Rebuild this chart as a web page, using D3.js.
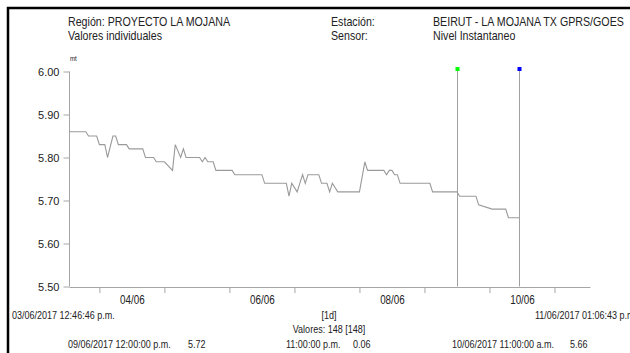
<!DOCTYPE html>
<html>
<head>
<meta charset="utf-8">
<script src="https://cdn.jsdelivr.net/npm/d3@7"></script>
<style>
  html, body { margin: 0; padding: 0; background: #fff; }
  svg { display: block; }
  .nar { font-family: 'Liberation Sans', Arial, sans-serif; fill: #222; }
  .reg { font-family: 'Liberation Sans', Arial, sans-serif; fill: #222; }
</style>
</head>
<body>
<div id="chart"></div>
<script>
// ---- data ----
const times = [
  "03/06/2017 12:46:46", "03/06/2017 19:00:00", "03/06/2017 20:00:00", "03/06/2017 23:00:00",
  "04/06/2017 00:00:00", "04/06/2017 02:00:00", "04/06/2017 03:00:00", "04/06/2017 05:00:00",
  "04/06/2017 06:00:00", "04/06/2017 07:00:00", "04/06/2017 10:00:00", "04/06/2017 11:00:00",
  "04/06/2017 16:00:00", "04/06/2017 17:00:00", "04/06/2017 20:00:00", "04/06/2017 21:00:00",
  "05/06/2017 00:00:00", "05/06/2017 03:00:00", "05/06/2017 04:00:00", "05/06/2017 06:00:00",
  "05/06/2017 07:00:00", "05/06/2017 08:00:00", "05/06/2017 13:00:00", "05/06/2017 14:00:00",
  "05/06/2017 15:00:00", "05/06/2017 16:00:00", "05/06/2017 18:00:00", "05/06/2017 19:00:00",
  "06/06/2017 01:00:00", "06/06/2017 02:00:00", "06/06/2017 12:00:00", "06/06/2017 13:00:00",
  "06/06/2017 21:00:00", "06/06/2017 22:00:00", "06/06/2017 23:00:00", "07/06/2017 01:00:00",
  "07/06/2017 03:00:00", "07/06/2017 04:00:00", "07/06/2017 05:00:00", "07/06/2017 09:00:00",
  "07/06/2017 10:00:00", "07/06/2017 12:00:00", "07/06/2017 13:00:00", "07/06/2017 14:00:00",
  "07/06/2017 16:00:00", "08/06/2017 00:00:00", "08/06/2017 02:00:00", "08/06/2017 03:00:00",
  "08/06/2017 09:00:00", "08/06/2017 10:00:00", "08/06/2017 11:00:00", "08/06/2017 12:00:00",
  "08/06/2017 13:00:00", "08/06/2017 14:00:00", "08/06/2017 15:00:00", "09/06/2017 02:00:00",
  "09/06/2017 03:00:00", "09/06/2017 12:00:00", "09/06/2017 13:00:00", "09/06/2017 19:00:00",
  "09/06/2017 20:00:00", "10/06/2017 01:00:00", "10/06/2017 06:00:00", "10/06/2017 07:00:00",
  "10/06/2017 11:00:00"
];
const values = [
  5.86, 5.86, 5.85, 5.85,
  5.83, 5.83, 5.80, 5.85,
  5.85, 5.83, 5.83, 5.82,
  5.82, 5.80, 5.80, 5.79,
  5.79, 5.77, 5.83, 5.80,
  5.82, 5.80, 5.80, 5.79,
  5.80, 5.79, 5.79, 5.77,
  5.77, 5.76, 5.76, 5.74,
  5.74, 5.71, 5.74, 5.72,
  5.76, 5.74, 5.76, 5.76,
  5.74, 5.74, 5.72, 5.74,
  5.72, 5.72, 5.79, 5.77,
  5.77, 5.76, 5.77, 5.77,
  5.76, 5.76, 5.74, 5.74,
  5.72, 5.72, 5.71, 5.71,
  5.69, 5.68, 5.68, 5.66,
  5.66
];
const periodStart = "03/06/2017 12:46:46";
const periodEnd = "11/06/2017 13:06:43";
const yTicks = [5.50, 5.60, 5.70, 5.80, 5.90, 6.00];
const xLabelDays = ["04/06/2017 12:00:00", "06/06/2017 12:00:00", "08/06/2017 12:00:00", "10/06/2017 12:00:00"];
const cursorTimes = ["09/06/2017 12:00:00", "10/06/2017 11:00:00"];
const cursorColors = ["#00ff00", "#0000ff"];
const headerLeft = ["Región: PROYECTO LA MOJANA", "Valores individuales"];
const headerMidLabels = ["Estación:", "Sensor:"];
const headerRight = ["BEIRUT - LA MOJANA TX GPRS/GOES", "Nivel Instantaneo"];
const unitLabel = "mt";
const footStart = "03/06/2017 12:46:46 p.m.";
const footEnd = "11/06/2017 01:06:43 p.m.";
const footInterval = "[1d]";
const footCount = "Valores: 148 [148]";
const cursorInfo = [
  ["09/06/2017 12:00:00 p.m.", "5.72"],
  ["11:00:00 p.m.", "0.06"],
  ["10/06/2017 11:00:00 a.m.", "5.66"]
];

// ---- drawing ----
const W = 630, H = 353;
const NARROW = 0.82; // horizontal squeeze imitating a narrow face
const parse = d3.timeParse("%d/%m/%Y %H:%M:%S");
const data = times.map((t, i) => ({ t: parse(t), v: values[i] }));

const svg = d3.select("#chart").append("svg").attr("width", W).attr("height", H);
svg.append("rect").attr("width", W).attr("height", H).attr("fill", "#fff");

// frame
svg.append("path").attr("d", `M8,${H + 5} V8 H${W + 5}`).attr("fill", "none")
  .attr("stroke", "#000").attr("stroke-width", 2.5);

const x = d3.scaleTime().domain([parse(periodStart), parse(periodEnd)]).range([69, 590]);
const y = d3.scaleLinear().domain([5.5, 6.0]).range([286.5, 71.5]);

const axisColor = "#a6a6a6";

// narrow text helper
function nt(s, xx, yy, size, anchor, squeeze) {
  return svg.append("g").attr("transform", `translate(${xx},${yy}) scale(${squeeze || NARROW},1)`)
    .append("text").attr("class", "nar").attr("font-size", size)
    .attr("text-anchor", anchor || "start").text(s);
}

// y axis
const gy = svg.append("g").attr("transform", "translate(69.5,0)")
  .call(d3.axisLeft(y).tickValues(yTicks).tickFormat(d3.format(".2f")).tickSize(6).tickPadding(4));
gy.attr("font-family", null);
gy.select(".domain").attr("stroke", axisColor).attr("d", `M0,${y(6.0)}V${y(5.5)}`);
gy.selectAll(".tick line").attr("stroke", axisColor);
gy.selectAll(".tick text").attr("class", "reg").attr("font-size", 11).attr("fill", "#222");

// x axis (day ticks)
const dayTicks = d3.timeDay.range(d3.timeDay.ceil(x.domain()[0]), x.domain()[1]);
const gx = svg.append("g").attr("transform", `translate(0,${y(5.5) + 0.5})`)
  .call(d3.axisBottom(x).tickValues(dayTicks).tickFormat("").tickSize(6).tickSizeOuter(0));
gx.select(".domain").attr("stroke", axisColor);
gx.selectAll(".tick line").attr("stroke", axisColor);

// x labels centred on the days
const gxl = svg.append("g").attr("transform", `translate(0,${y(5.5)})`)
  .call(d3.axisBottom(x).tickValues(xLabelDays.map(parse)).tickFormat(d3.timeFormat("%d/%m")).tickSize(0));
gxl.attr("font-family", null);
gxl.select(".domain").remove();
gxl.selectAll(".tick text").attr("class", "nar").attr("font-size", 12).attr("y", 18).attr("dy", 0)
  .attr("transform", `scale(${NARROW},1)`);

// unit
nt(unitLabel, 70, 61, 7.5);

// cursors
cursorTimes.forEach((c, i) => {
  const cx = Math.round(x(parse(c))) + 0.5;
  svg.append("line").attr("x1", cx).attr("x2", cx).attr("y1", 69).attr("y2", y(5.5))
    .attr("stroke", "#a0a0a0").attr("stroke-width", 1);
  svg.append("rect").attr("x", cx - 2).attr("y", 67).attr("width", 4).attr("height", 4)
    .attr("fill", cursorColors[i]);
});

// data line
svg.append("path").datum(data)
  .attr("fill", "none").attr("stroke", "#9a9a9a").attr("stroke-width", 1.1)
  .attr("d", d3.line().x(d => x(d.t)).y(d => y(d.v)));

// header
const HS = 0.853;
headerLeft.forEach((s, i) => nt(s, 68, 25.5 + i * 14, 12.5, "start", HS));
headerMidLabels.forEach((s, i) => nt(s, 331, 25.5 + i * 14, 12.5, "start", HS));
headerRight.forEach((s, i) => nt(s, 433, 25.5 + i * 14, 12.5, "start", HS));

// footer
nt(footStart, 12, 319, 11);
nt(footInterval, 329, 319, 11, "middle");
nt(footEnd, 535, 319, 11);
nt(footCount, 329, 333, 11, "middle");
nt(cursorInfo[0][0], 68, 348, 11); nt(cursorInfo[0][1], 188, 348, 11);
nt(cursorInfo[1][0], 286, 348, 11); nt(cursorInfo[1][1], 353, 348, 11);
nt(cursorInfo[2][0], 452, 348, 11); nt(cursorInfo[2][1], 570, 348, 11);
</script>
</body>
</html>
